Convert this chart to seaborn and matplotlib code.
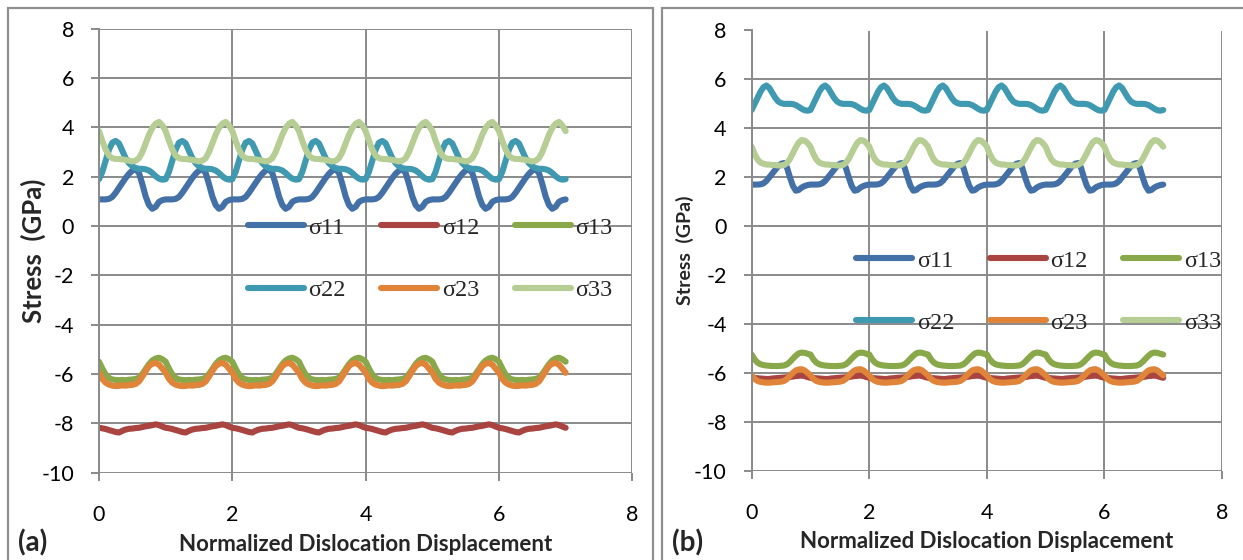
import numpy as np
import pandas as pd
import matplotlib
matplotlib.use("Agg")
import matplotlib.pyplot as plt
from matplotlib.lines import Line2D
from matplotlib.patches import Rectangle
import seaborn as sns

# One cycle of each stress component, sampled every 0.05 of the
# normalized displacement; the profile repeats over 7 cycles.
phase = [0.00, 0.05, 0.10, 0.15, 0.20, 0.25, 0.30, 0.35, 0.40, 0.45,
         0.50, 0.55, 0.60, 0.65, 0.70, 0.75, 0.80, 0.85, 0.90, 0.95]
n_cycles = 7

components = ["σ11", "σ12", "σ13", "σ22", "σ23", "σ33"]

# (a)
s11_a = [1.08, 1.08, 1.08, 1.10, 1.18, 1.35, 1.55, 1.75, 1.95, 2.12,
         2.25, 2.30, 2.15, 1.70, 1.20, 0.85, 0.70, 0.78, 0.98, 1.05]
s12_a = [-8.18, -8.20, -8.23, -8.27, -8.31, -8.35, -8.37, -8.30, -8.25, -8.22,
         -8.21, -8.19, -8.18, -8.15, -8.12, -8.10, -8.07, -8.04, -8.07, -8.13]
s13_a = [-5.50, -5.78, -6.02, -6.16, -6.22, -6.24, -6.25, -6.24, -6.25, -6.23,
         -6.22, -6.20, -6.15, -6.00, -5.80, -5.60, -5.45, -5.37, -5.34, -5.40]
s22_a = [1.90, 2.20, 2.65, 3.10, 3.38, 3.45, 3.35, 3.05, 2.75, 2.55,
         2.42, 2.35, 2.32, 2.32, 2.30, 2.25, 2.15, 2.02, 1.92, 1.88]
s23_a = [-5.95, -6.20, -6.35, -6.43, -6.47, -6.49, -6.48, -6.46, -6.47, -6.45,
         -6.44, -6.40, -6.30, -6.10, -5.88, -5.68, -5.58, -5.55, -5.62, -5.78]
s33_a = [3.85, 3.45, 3.10, 2.85, 2.75, 2.72, 2.72, 2.70, 2.68, 2.65,
         2.62, 2.65, 2.75, 3.00, 3.35, 3.70, 3.98, 4.15, 4.22, 4.08]

# (b)
s11_b = [1.70, 1.70, 1.70, 1.71, 1.75, 1.85, 2.00, 2.15, 2.30, 2.45,
         2.55, 2.58, 2.40, 2.00, 1.65, 1.45, 1.48, 1.58, 1.64, 1.68]
s12_b = [-6.20, -6.21, -6.22, -6.23, -6.24, -6.25, -6.25, -6.23, -6.22, -6.21,
         -6.20, -6.19, -6.18, -6.17, -6.15, -6.13, -6.12, -6.11, -6.13, -6.17]
s13_b = [-5.25, -5.45, -5.58, -5.65, -5.68, -5.70, -5.71, -5.72, -5.72, -5.72,
         -5.71, -5.70, -5.65, -5.55, -5.42, -5.30, -5.20, -5.17, -5.18, -5.22]
s22_b = [4.75, 5.00, 5.25, 5.50, 5.68, 5.75, 5.65, 5.45, 5.25, 5.10,
         5.03, 5.00, 5.00, 5.00, 4.99, 4.95, 4.88, 4.80, 4.74, 4.72]
s23_b = [-6.10, -6.25, -6.33, -6.37, -6.39, -6.40, -6.40, -6.39, -6.38, -6.37,
         -6.36, -6.33, -6.25, -6.12, -6.00, -5.90, -5.86, -5.85, -5.90, -6.00]
s33_b = [3.25, 2.95, 2.72, 2.60, 2.55, 2.52, 2.52, 2.50, 2.50, 2.48,
         2.48, 2.50, 2.58, 2.75, 2.98, 3.22, 3.42, 3.52, 3.50, 3.40]

x_ticks = [0, 2, 4, 6, 8]
y_ticks = [-10, -8, -6, -4, -2, 0, 2, 4, 6, 8]

colors = {"σ11": "#4470a8", "σ12": "#a94441", "σ13": "#89a84a",
          "σ22": "#3f99b1", "σ23": "#df8438", "σ33": "#b6cd94"}


def long_table(series):
    x = np.concatenate([np.asarray(phase) + k for k in range(n_cycles)] + [[n_cycles]])
    rows = []
    for name, vals in zip(components, series):
        y = list(vals) * n_cycles + [vals[0]]
        rows.append(pd.DataFrame({"x": x, "stress": y, "component": name}))
    return pd.concat(rows, ignore_index=True)


data_a = long_table([s11_a, s12_a, s13_a, s22_a, s23_a, s33_a])
data_b = long_table([s11_b, s12_b, s13_b, s22_b, s23_b, s33_b])

sns.set_theme(style="white")
plt.rcParams["font.family"] = ["Lato", "DejaVu Sans"]
plt.rcParams["axes.unicode_minus"] = False

W, H = 1243, 560
fig = plt.figure(figsize=(W / 100, H / 100), dpi=100)

grid_c = "#8a8a8a"

# outer panel frames
for x0, x1 in [(8, 653), (662, 1260)]:
    fig.patches.append(Rectangle((x0 / W, -0.05), (x1 - x0) / W, 1.05 - 8 / H,
                                 transform=fig.transFigure, fill=False,
                                 edgecolor="#8f8f8f", linewidth=1.6))

ax_a = fig.add_axes([99 / W, 1 - 472.7 / H, (632.3 - 99) / W, (472.7 - 28.7) / H])
ax_b = fig.add_axes([751.7 / W, 1 - 470.7 / H, (1222 - 751.7) / W, (470.7 - 30.5) / H])

panels = [
    (ax_a, data_a, "(a)", 8 / W, (0.279, 0.576), 18.5, -0.124),
    (ax_b, data_b, "(b)", 662 / W, (0.222, 0.502), 14, -0.142),
]

# legend entries are filled column by column: reorder so rows read 11 12 13 / 22 23 33
legend_order = ["σ11", "σ22", "σ12", "σ23", "σ13", "σ33"]

for ax, df, tag, frame_left, leg_anchor, ylab_size, ylab_x in panels:
    sns.lineplot(data=df, x="x", y="stress", hue="component", palette=colors,
                 hue_order=components, sort=False, estimator=None,
                 linewidth=4.4, legend=False, ax=ax)
    for ln in ax.get_lines():
        ln.set_solid_capstyle("round")
        ln.set_solid_joinstyle("round")

    ax.set_xlim(0, 8)
    ax.set_ylim(-10, 8)
    ax.set_xticks(x_ticks)
    ax.set_yticks(y_ticks)
    ax.grid(True, color=grid_c, linewidth=1.4)
    ax.set_axisbelow(True)
    for side in ["top", "right", "bottom"]:
        ax.spines[side].set_visible(False)
    ax.spines["left"].set_color(grid_c)
    ax.spines["left"].set_linewidth(1.4)
    ax.tick_params(axis="both", which="major", direction="out", length=6,
                   width=1.4, color=grid_c, labelsize=15.5, labelcolor="black",
                   left=True, bottom=True)
    ax.tick_params(axis="y", pad=12)
    ax.tick_params(axis="x", pad=17)

    ax.set_xlabel("Normalized Dislocation Displacement", fontsize=16,
                  fontweight="bold", va="center")
    ax.xaxis.set_label_coords(0.5, -0.161)
    ax.set_ylabel("Stress  (GPa)", fontsize=ylab_size, fontweight="bold",
                  va="center")
    ax.yaxis.set_label_coords(ylab_x, 0.5)

    handles = [Line2D([], [], color=colors[c], linewidth=4.4,
                      solid_capstyle="round") for c in legend_order]
    ax.legend(handles, legend_order, ncol=3, loc="upper left",
              bbox_to_anchor=leg_anchor, frameon=False, borderpad=0,
              borderaxespad=0, handlelength=2.3, handletextpad=0.2,
              columnspacing=1.45, labelspacing=1.65,
              prop={"family": "Liberation Serif", "size": 17.5})

    fig.text(frame_left + 10 / W, 1 - 551 / H, tag, fontsize=20,
             fontweight="bold", ha="left", va="baseline")

fig.savefig("out.png", dpi=100)
